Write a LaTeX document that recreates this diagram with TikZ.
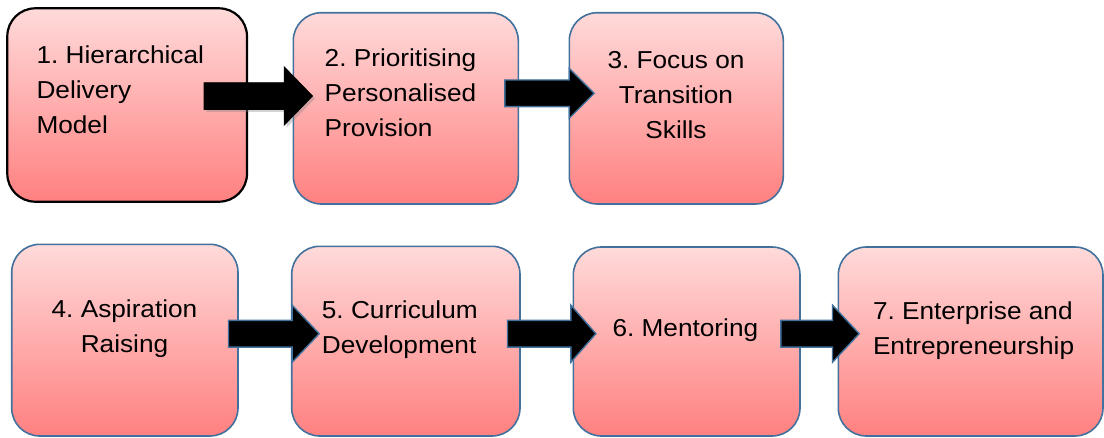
\documentclass[tikz,border=0pt]{standalone}
\usepackage{fontspec}
\setmainfont{Liberation Sans}[FakeStretch=1.07]
\usetikzlibrary{calc,shadows}

\definecolor{boxtop}{RGB}{255,218,218}
\definecolor{boxbottom}{RGB}{255,128,128}
\definecolor{edgeblue}{RGB}{65,113,156}

% block arrow from the tail point to the tip point, kept horizontal at the tip's height
% #1 style, #2 tail, #3 tip, #4 half shaft width, #5 half head width, #6 head length
\newcommand\blockarrow[6]{%
  \draw[#1] let \p1=(#2), \p2=(#3) in
    (\x1,\y2+#4) -- (\x2-#6,\y2+#4) -- (\x2-#6,\y2+#5) -- (\x2,\y2)
    -- (\x2-#6,\y2-#5) -- (\x2-#6,\y2-#4) -- (\x1,\y2-#4) -- cycle;}

\tikzset{
  stagebox/.style={draw=edgeblue, line width=1.6pt, rounded corners=28pt,
    top color=boxtop, bottom color=boxbottom, inner sep=0pt},
  firstbox/.style={stagebox, draw=black, line width=2.2pt},
  stagetext/.style={inner sep=0pt, font=\fontsize{24.5}{35}\selectfont\frenchspacing},
  flowarrow/.style={fill=black, draw=edgeblue, line width=1.4pt, line join=miter},
  firstarrow/.style={fill=black, draw=black, line width=0.8pt,
    drop shadow={opacity=0.35, shadow xshift=2.5pt, shadow yshift=-2.5pt}},
}

\begin{document}
\frenchspacing
\begin{tikzpicture}[x=1pt, y=-1pt]
\useasboundingbox (0,0) rectangle (1104,437);

% stage boxes
\node[firstbox, minimum width=239.7pt, minimum height=193.4pt] (b1) at (127.15,105) {};
\node[stagebox, minimum width=225pt,   minimum height=191.3pt] (b2) at (405.8,108.35) {};
\node[stagebox, minimum width=214pt,   minimum height=191.3pt] (b3) at (676.3,108.35) {};
\node[stagebox, minimum width=226.3pt, minimum height=191.7pt] (b4) at (124.85,340.15) {};
\node[stagebox, minimum width=228.3pt, minimum height=189.7pt] (b5) at (405.85,341.15) {};
\node[stagebox, minimum width=226.7pt, minimum height=189pt]   (b6) at (686.65,341.5) {};
\node[stagebox, minimum width=264.7pt, minimum height=189pt]   (b7) at (970.65,341.5) {};

% stage labels (anchored at the baseline of the last line)
\node[stagetext, anchor=base west, align=left]   (t1) at (36.3,133)   {1. Hierarchical\\Delivery\\Model};
\node[stagetext, anchor=base west, align=left]   (t2) at (324.5,136.7){2. Prioritising\\Personalised\\Provision};
\node[stagetext, anchor=base, align=center]      (t3) at (676,138)    {3. Focus on\\Transition\\Skills};
\node[stagetext, anchor=base, align=center]      (t4) at (124.5,352)  {4. Aspiration\\Raising};
\node[stagetext, anchor=base west, align=left]   (t5) at (321.7,353.7){5. Curriculum\\Development};
\node[stagetext, anchor=base west, align=left]   (t6) at (612.3,336.3){6. Mentoring};
\node[stagetext, anchor=base west, align=left]   (t7) at (872.8,354.3){7. Enterprise and\\Entrepreneurship};

% arrows between stages
\blockarrow{firstarrow}{$(b1.east)+(-44,-9)$}{$(b2.west)+(20,-12.35)$}{13.35pt}{29.15pt}{28.3pt}
\blockarrow{flowarrow}{$(b2.east)+(-14.3,-15.05)$}{$(b3.west)+(25.7,-15.05)$}{13.35pt}{25pt}{25pt}
\blockarrow{flowarrow}{$(b4.east)+(-10.3,-6.45)$}{$(b5.west)+(28.3,-7.45)$}{13.35pt}{28.5pt}{27pt}
\blockarrow{flowarrow}{$(b5.east)+(-13.3,-7.45)$}{$(b6.west)+(23.4,-7.8)$}{13.35pt}{28.5pt}{25pt}
\blockarrow{flowarrow}{$(b6.east)+(-20,-7.8)$}{$(b7.west)+(21.7,-7.8)$}{13.35pt}{28.5pt}{26.7pt}
\end{tikzpicture}
\end{document}
